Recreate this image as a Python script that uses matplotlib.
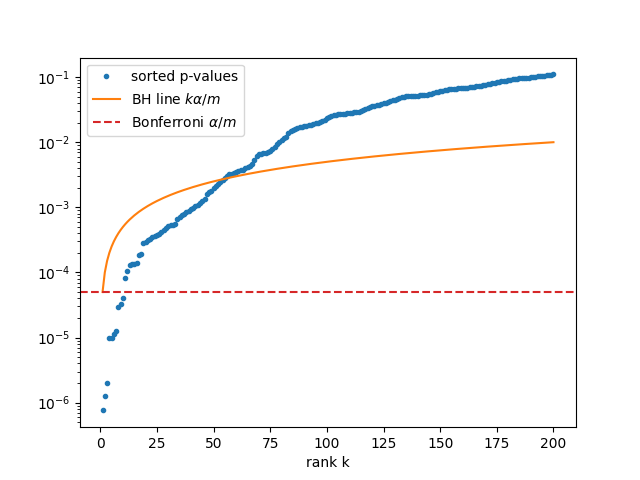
import numpy as np
import matplotlib
matplotlib.use("Agg")
import matplotlib.pyplot as plt

alpha = 0.01
m = 200

p_sorted = [
    7.6e-7, 1.25e-6, 2.0e-6, 9.7e-6, 1.0e-5, 1.13e-5, 1.26e-5, 2.97e-5, 3.26e-5, 4.0e-5,
    8.1e-5, 1.07e-4, 1.31e-4, 1.34e-4, 1.37e-4, 1.40e-4, 1.82e-4, 1.95e-4, 2.8e-4, 2.95e-4,
    3.15e-4, 3.3e-4, 3.45e-4, 3.6e-4, 3.75e-4, 3.95e-4, 4.2e-4, 4.45e-4, 4.75e-4, 5.1e-4,
    5.3e-4, 5.35e-4, 5.45e-4, 6.7e-4, 7.1e-4, 7.5e-4, 7.9e-4, 8.4e-4, 8.8e-4, 9.3e-4,
    9.8e-4, 1.03e-3, 1.08e-3, 1.15e-3, 1.24e-3, 1.35e-3, 1.6e-3, 1.7e-3, 1.78e-3, 1.95e-3,
    2.15e-3, 2.32e-3, 2.45e-3, 2.6e-3, 2.8e-3, 3.05e-3, 3.2e-3, 3.25e-3, 3.35e-3, 3.45e-3,
    3.55e-3, 3.7e-3, 3.8e-3, 3.95e-3, 4.1e-3, 4.3e-3, 4.7e-3, 5.3e-3, 6.2e-3, 6.5e-3,
    6.7e-3, 6.8e-3, 6.9e-3, 7.1e-3, 7.4e-3, 7.8e-3, 8.5e-3, 9.3e-3, 1.0e-2, 1.08e-2,
    1.15e-2, 1.2e-2, 1.38e-2, 1.48e-2, 1.55e-2, 1.62e-2, 1.67e-2, 1.7e-2, 1.74e-2, 1.77e-2,
    1.8e-2, 1.83e-2, 1.86e-2, 1.9e-2, 1.94e-2, 1.97e-2, 2.05e-2, 2.15e-2, 2.22e-2, 2.35e-2,
    2.45e-2, 2.55e-2, 2.6e-2, 2.64e-2, 2.67e-2, 2.7e-2, 2.73e-2, 2.75e-2, 2.78e-2, 2.8e-2,
    2.82e-2, 2.86e-2, 2.9e-2, 2.95e-2, 3.0e-2, 3.12e-2, 3.25e-2, 3.38e-2, 3.5e-2, 3.56e-2,
    3.62e-2, 3.7e-2, 3.78e-2, 3.87e-2, 3.95e-2, 4.05e-2, 4.2e-2, 4.33e-2, 4.43e-2, 4.52e-2,
    4.62e-2, 4.75e-2, 4.9e-2, 5.02e-2, 5.08e-2, 5.12e-2, 5.15e-2, 5.17e-2, 5.19e-2, 5.21e-2,
    5.23e-2, 5.26e-2, 5.3e-2, 5.38e-2, 5.48e-2, 5.56e-2, 5.68e-2, 5.8e-2, 5.95e-2, 6.1e-2,
    6.2e-2, 6.3e-2, 6.38e-2, 6.45e-2, 6.52e-2, 6.6e-2, 6.66e-2, 6.72e-2, 6.78e-2, 6.83e-2,
    6.87e-2, 6.92e-2, 6.97e-2, 7.03e-2, 7.1e-2, 7.2e-2, 7.3e-2, 7.4e-2, 7.5e-2, 7.6e-2,
    7.72e-2, 7.85e-2, 8.0e-2, 8.15e-2, 8.3e-2, 8.45e-2, 8.58e-2, 8.68e-2, 8.85e-2, 9.0e-2,
    9.12e-2, 9.25e-2, 9.38e-2, 9.45e-2, 9.52e-2, 9.6e-2, 9.68e-2, 9.75e-2, 9.82e-2, 9.9e-2,
    9.97e-2, 1.01e-1, 1.026e-1, 1.035e-1, 1.045e-1, 1.055e-1, 1.065e-1, 1.075e-1, 1.085e-1, 1.1e-1,
]

k = np.arange(1, m + 1)
p = np.array(p_sorted)

fig, ax = plt.subplots(figsize=(6.4, 4.8), dpi=100)
ax.plot(k, p, '.', label='sorted p-values')
ax.plot(k, k * alpha / m, label=r'BH line $k\alpha/m$')
ax.axhline(alpha / m, color='C3', linestyle='--', label=r'Bonferroni $\alpha/m$')
ax.set_yscale('log')
ax.set_xlabel('rank k')
ax.legend(loc='upper left')
fig.savefig('out.png')
